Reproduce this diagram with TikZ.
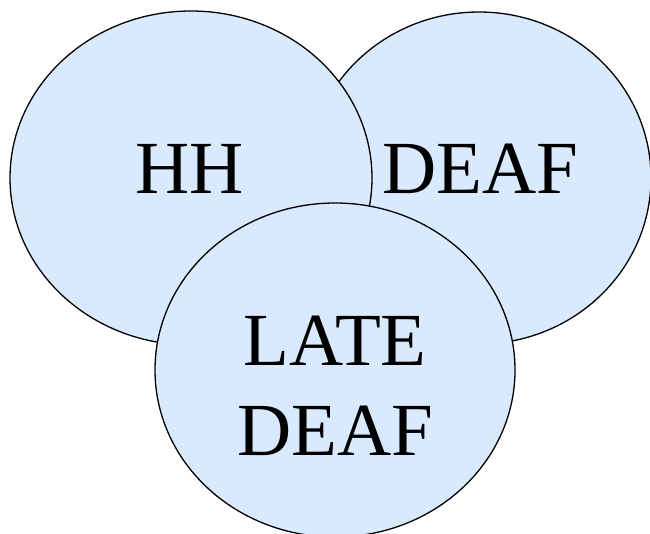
\documentclass[tikz,border=0pt]{standalone}
\usepackage{fontspec}
\setmainfont{Liberation Serif}
\definecolor{bubble}{HTML}{DAEAFE}
\begin{document}
\begin{tikzpicture}[x=1pt,y=-1pt,
  bubble/.style={draw=black,line width=1.3pt,fill=bubble},
  lbl/.style={font=\fontsize{75}{90}\selectfont,anchor=base,inner sep=0pt,align=center}]
\useasboundingbox (0,0) rectangle (650,533);
\filldraw[bubble] (479,178) ellipse [x radius=172,y radius=166];
\filldraw[bubble] (191,178) ellipse [x radius=181,y radius=167];
\filldraw[bubble] (335,370) ellipse [x radius=180,y radius=167];
\node[lbl] (hh) at (190,193) {HH};
\node[lbl] (deaf) at (480,193) {DEAF};
\node[lbl] (late) at (335,365) {LATE};
\node[lbl] (late2) at (335,455) {DEAF};
\end{tikzpicture}
\end{document}
